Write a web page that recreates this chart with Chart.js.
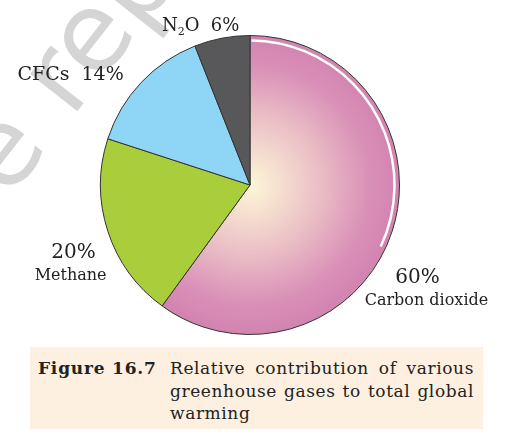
<!DOCTYPE html>
<html>
<head>
<meta charset="utf-8">
<script src="https://cdn.jsdelivr.net/npm/chart.js@4.4.1/dist/chart.umd.min.js"></script>
<style>
  html, body { margin: 0; padding: 0; background: #fff; }
  #wrap { position: relative; width: 506px; height: 436px; overflow: hidden; }
  #myChart { position: absolute; left: 0; top: 0; }
  #caption {
    position: absolute; left: 30px; top: 347px; width: 453px; height: 82px;
    background: #fdf0e1; font-family: "DejaVu Serif", serif; font-size: 17px;
    color: #222; line-height: 22.5px; letter-spacing: 0.6px;
  }
  #caption b { position: absolute; left: 8px; top: 10px; letter-spacing: 0.8px; }
  #caption div { position: absolute; left: 140px; top: 10px; width: 304px; text-align: justify; }
</style>
</head>
<body>
<div id="wrap">
  <canvas id="myChart" width="506" height="436"></canvas>
  <div id="caption">
    <b>Figure 16.7</b>
    <div>Relative contribution of various greenhouse gases to total global warming</div>
  </div>
</div>
<script>
// Data
const gases = ["Carbon dioxide", "Methane", "CFCs", "N2O"];
const shares = [60, 20, 14, 6];
const sliceColors = [null, "#a9cd3b", "#8fd6f6", "#58585a"];

// label placement, relative to pie centre in units of the radius
const labelStyle = [
  { dx: 1.12, dy: 0.655, pctFirst: true },
  { dx: -1.18, dy: 0.49, pctFirst: true },
  { dx: -1.20, dy: -0.70, pctFirst: false },
  { dx: -0.33, dy: -1.03, pctFirst: false },
];

function co2Gradient(context) {
  const chart = context.chart;
  const area = chart.chartArea;
  if (!area) return "#d888b4";
  const cx = (area.left + area.right) / 2;
  const cy = (area.top + area.bottom) / 2;
  const r = Math.min(area.width, area.height) / 2;
  const g = chart.ctx.createRadialGradient(cx, cy, 0, cx, cy, r);
  g.addColorStop(0, "#fdf7d8");
  g.addColorStop(0.45, "#ebc0c6");
  g.addColorStop(0.8, "#d98fb7");
  g.addColorStop(1, "#d283b0");
  return g;
}

// faint grey watermark behind the pie
const watermark = {
  id: "watermark",
  beforeDatasetsDraw(chart) {
    const ctx = chart.ctx;
    ctx.save();
    ctx.translate(-35, 255);
    ctx.rotate(-52 * Math.PI / 180);
    ctx.fillStyle = "#d5d5d5";
    ctx.font = '110px "DejaVu Sans"';
    ctx.fillText("be republished", 0, 0);
    ctx.restore();
  },
};

const pieLabels = {
  id: "pieLabels",
  afterDatasetsDraw(chart) {
    const ctx = chart.ctx;
    const arcs = chart.getDatasetMeta(0).data;
    const c = arcs[0];
    const R = c.outerRadius;

    // white highlight along the rim of the big slice
    ctx.save();
    ctx.strokeStyle = "#ffffff";
    ctx.lineWidth = 2.5;
    ctx.beginPath();
    ctx.arc(c.x, c.y, R - 5, c.startAngle + 0.01, c.startAngle + Math.PI * 0.64);
    ctx.stroke();
    ctx.restore();

    ctx.save();
    ctx.fillStyle = "#222";
    ctx.textAlign = "center";
    ctx.textBaseline = "alphabetic";
    arcs.forEach((arc, i) => {
      const s = labelStyle[i];
      const x = arc.x + s.dx * R;
      const y = arc.y + s.dy * R;
      const pct = shares[i] + "%";
      if (s.pctFirst) {
        ctx.font = '20px "DejaVu Serif"';
        ctx.fillText(pct, x, y);
        ctx.font = '16px "DejaVu Serif"';
        ctx.fillText(gases[i], x + (i === 0 ? 9 : -3), y + 22);
      } else if (gases[i] === "N2O") {
        // N₂O with subscript
        const big = '18px "DejaVu Serif"', small = '11px "DejaVu Serif"';
        ctx.font = big;
        const wN = ctx.measureText("N").width;
        const wRest = ctx.measureText("O  " + pct).width;
        ctx.font = small;
        const w2 = ctx.measureText("2").width;
        let sx = x - (wN + w2 + wRest) / 2;
        ctx.textAlign = "left";
        ctx.font = big;
        ctx.fillText("N", sx, y);
        ctx.font = small;
        ctx.fillText("2", sx + wN, y + 4);
        ctx.font = big;
        ctx.fillText("O  " + pct, sx + wN + w2, y);
        ctx.textAlign = "center";
      } else {
        ctx.font = '19px "DejaVu Serif"';
        ctx.fillText(gases[i] + "  " + pct, x, y);
      }
    });
    ctx.restore();
  },
};

new Chart(document.getElementById("myChart"), {
  type: "pie",
  data: {
    labels: gases,
    datasets: [{
      data: shares,
      backgroundColor: (context) => context.dataIndex === 0 ? co2Gradient(context) : sliceColors[context.dataIndex],
      borderColor: "#333",
      borderWidth: 1,
    }],
  },
  options: {
    responsive: false,
    animation: false,
    devicePixelRatio: 1,
    layout: { padding: { left: 100, right: 106, top: 35, bottom: 101 } },
    plugins: { legend: { display: false }, tooltip: { enabled: false } },
  },
  plugins: [watermark, pieLabels],
});
</script>
</body>
</html>
